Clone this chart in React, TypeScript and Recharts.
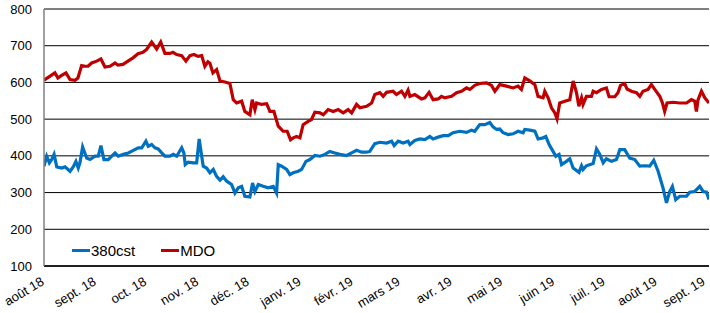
import React from 'react';
import { LineChart, Line, XAxis, YAxis, CartesianGrid } from 'recharts';

// x = days since 1 Aug 2018
const monthTicks = [0, 31, 61, 92, 122, 153, 184, 212, 243, 273, 304, 334, 365, 396];
const monthLabels = [
  'août 18', 'sept. 18', 'oct. 18', 'nov. 18', 'déc. 18', 'janv. 19', 'févr. 19',
  'mars 19', 'avr. 19', 'mai 19', 'juin 19', 'juil. 19', 'août 19', 'sept. 19',
];
const yTicks = [100, 200, 300, 400, 500, 600, 700, 800];
const seriesNames = ['380cst', 'MDO'];
const seriesColors = ['#0070C0', '#C00000'];

const cstDays = [
  0, 1.6, 3.2, 4.6, 6, 7.6, 10.5, 12.5, 15.5, 17.4,
  19, 20.4, 21.4, 23, 25.4, 27.4, 30.4, 32.3, 33.9, 35.7,
  38.3, 40.3, 42.3, 44.2, 47.2, 50.2, 53.2, 56.1, 58.2, 60.7,
  62.1, 64.1, 66.1, 68, 70.1, 72, 75, 77, 79, 82,
  83.3, 84.1, 85.9, 88.9, 90.9, 92.4, 94.8, 96.8, 98.8, 100.8,
  102.8, 104.8, 106.7, 108.8, 111.7, 113.7, 115.7, 117.7, 119.6, 122.6,
  124.2, 125.6, 127.6, 130.5, 133.5, 136.5, 138.5, 139.5, 141.5, 144.5,
  146.4, 148.4, 151.4, 153.4, 156, 158.3, 161.3, 164.3, 167.3, 170.2,
  173.2, 176.2, 180.2, 183.2, 186.1, 189.1, 192.1, 194, 197, 200,
  204, 207, 208.5, 210.9, 213.9, 216.8, 217.9, 220.8, 223.8, 226.8,
  229.8, 231.7, 234.7, 237.7, 240.7, 243.6, 247.6, 251.6, 254.6, 256.5,
  259.5, 262.5, 265.5, 267.4, 269.5, 271.4, 273.4, 276.4, 279.3, 282.3,
  285.3, 286.3, 289.3, 292.3, 294.2, 297.2, 298.8, 300.8, 302.8, 304.8,
  306.7, 308.2, 311.1, 313.1, 315.1, 318.6, 320.1, 321, 323, 327,
  329, 331, 333, 334.9, 337.9, 340.9, 342.9, 345.8, 348.8, 351.8,
  354.8, 357.7, 360.7, 363.1, 365.7, 368.6, 370.7, 372.6, 374.2, 376.2,
  378.6, 382.6, 384.5, 387.5, 390.5, 392.5, 394.5, 396,
];
const cstValues = [
  372, 399, 381, 390, 404, 370, 367, 370, 358, 370,
  385, 367, 381, 424, 394, 390, 399, 399, 428, 390,
  390, 399, 408, 399, 404, 408, 415, 422, 422, 440,
  426, 431, 422, 419, 408, 399, 399, 404, 399, 422,
  408, 376, 383, 381, 381, 446, 372, 367, 354, 363,
  344, 334, 343, 331, 322, 299, 313, 317, 290, 288,
  326, 303, 322, 317, 313, 317, 299, 376, 372, 363,
  349, 354, 358, 363, 385, 390, 401, 399, 404, 412,
  408, 404, 401, 408, 415, 410, 410, 412, 433, 437,
  435, 440, 428, 440, 435, 440, 431, 442, 446, 444,
  453, 446, 451, 455, 455, 463, 467, 464, 470, 467,
  485, 485, 491, 479, 472, 473, 463, 458, 460, 467,
  463, 472, 470, 467, 446, 449, 453, 431, 415, 399,
  404, 376, 385, 392, 367, 355, 373, 363, 373, 379,
  419, 404, 381, 392, 385, 390, 417, 417, 394, 390,
  372, 373, 372, 388, 358, 313, 272, 303, 317, 281,
  290, 290, 301, 303, 317, 303, 301, 281,
];

const mdoDays = [
  0, 3.6, 6.5, 8.3, 10.5, 13.1, 15.5, 18.5, 20.2, 22.4,
  24.4, 26.2, 28.4, 31.4, 33.9, 36.3, 39.3, 42.3, 44, 47,
  50, 53, 56, 58.9, 61.1, 64.1, 67.1, 69.5, 72, 75,
  76.8, 79, 82, 84.5, 86.9, 89.3, 91.7, 93.9, 95.8, 97.6,
  98.8, 100.6, 102.8, 104.8, 107.7, 110.7, 112.7, 114.7, 117.7, 119.6,
  122.6, 124, 125.6, 126.6, 129.6, 132.6, 134.5, 136.9, 139.5, 142.4,
  144.8, 146.8, 148.4, 150.4, 152.4, 154.3, 157.3, 159.3, 161.3, 164.3,
  166.3, 169.2, 172.2, 175.2, 178.2, 181.1, 183.2, 186.1, 188.1, 192.1,
  195.1, 197, 200, 202, 204, 207.9, 209.9, 212.9, 214.9, 216.8,
  217.9, 220.8, 224.8, 226.8, 229.3, 231.7, 234.7, 236.7, 238.7, 242.7,
  245.7, 248.6, 251.6, 253.6, 256.5, 259.5, 263.5, 266.5, 268.5, 271.4,
  275.4, 279.3, 282.3, 284.3, 286.3, 289.3, 292.3, 294.2, 297.2, 298.2,
  300.2, 302.2, 304.2, 305.5, 307.1, 310.1, 313.1, 315.1, 317.1, 318.5,
  320.1, 321, 323, 326, 327, 329, 332, 334.9, 336.5, 339.9,
  341.8, 343.3, 345.8, 347.2, 349.8, 352.8, 354.8, 356.7, 359.7, 361.7,
  363.7, 366.7, 368.3, 369.6, 371, 374.6, 378.6, 382.6, 385.5, 387.5,
  388.5, 389.5, 391.5, 393.5, 396,
];
const mdoValues = [
  606, 617, 626, 612, 619, 626, 608, 606, 612, 646,
  644, 644, 653, 658, 664, 642, 644, 653, 647, 649,
  658, 667, 678, 682, 690, 710, 691, 710, 679, 679,
  682, 676, 673, 658, 673, 676, 671, 673, 644, 656,
  652, 626, 635, 604, 601, 597, 553, 544, 549, 521,
  512, 553, 526, 544, 540, 542, 521, 521, 481, 467,
  467, 444, 449, 453, 449, 485, 494, 499, 519, 517,
  512, 526, 521, 526, 517, 526, 517, 540, 531, 535,
  544, 567, 572, 562, 573, 576, 567, 576, 562, 579,
  562, 567, 555, 558, 573, 553, 555, 562, 558, 562,
  572, 576, 585, 581, 592, 597, 599, 592, 576, 594,
  590, 585, 590, 581, 612, 604, 594, 562, 558, 576,
  558, 531, 517, 501, 544, 549, 553, 604, 572, 535,
  558, 540, 562, 562, 576, 572, 581, 585, 561, 561,
  572, 592, 597, 582, 576, 572, 562, 576, 581, 594,
  581, 562, 544, 521, 544, 546, 544, 544, 553, 549,
  521, 553, 576, 558, 544,
];

const cstData = cstDays.map((day, i) => ({ day, value: cstValues[i] }));
const mdoData = mdoDays.map((day, i) => ({ day, value: mdoValues[i] }));

const FONT = '"Liberation Sans", Arial, sans-serif';

const MonthTick = (props: any) => {
  const { x, y, payload } = props;
  const label = monthLabels[monthTicks.indexOf(payload.value)];
  const tx = Math.min(x + 1, 706);
  const ty = y + 18;
  return (
    <text
      x={tx}
      y={ty}
      textAnchor="end"
      fontSize={13}
      fill="#000"
      fontFamily={FONT}
      transform={`rotate(-31 ${tx} ${ty})`}
    >
      {label}
    </text>
  );
};

export default function App() {
  return (
    <div style={{ position: 'relative', width: 710, height: 313, fontFamily: FONT }}>
      <style>{'body{margin:0}'}</style>
      <LineChart width={710} height={313} margin={{ top: 9, right: 1, bottom: 0, left: 0 }}>
        <CartesianGrid horizontal vertical={false} stroke="#000" strokeWidth={1} />
        <XAxis
          type="number"
          dataKey="day"
          domain={[0, 396]}
          ticks={monthTicks}
          interval={0}
          tick={<MonthTick />}
          tickLine={false}
          tickSize={0}
          tickMargin={0}
          axisLine={{ stroke: '#000', strokeWidth: 1.5 }}
          height={47}
          allowDataOverflow
        />
        <YAxis
          type="number"
          domain={[100, 800]}
          ticks={yTicks}
          interval={0}
          width={44}
          tickLine={false}
          tickSize={0}
          tickMargin={12}
          axisLine={{ stroke: '#808080', strokeWidth: 1.5 }}
          tick={{ fontSize: 13, fill: '#000', fontFamily: FONT }}
        />
        <Line
          data={cstData}
          dataKey="value"
          name={seriesNames[0]}
          type="linear"
          stroke={seriesColors[0]}
          strokeWidth={3.2}
          dot={false}
          isAnimationActive={false}
        />
        <Line
          data={mdoData}
          dataKey="value"
          name={seriesNames[1]}
          type="linear"
          stroke={seriesColors[1]}
          strokeWidth={3.2}
          dot={false}
          isAnimationActive={false}
        />
      </LineChart>
      <div style={{ position: 'absolute', left: 72, top: 242, display: 'flex', alignItems: 'center', fontSize: 15 }}>
        {seriesNames.map((name, i) => (
          <div key={name} style={{ display: 'flex', alignItems: 'center', marginRight: i === 0 ? 26 : 0 }}>
            <div style={{ width: 18, height: 3, background: seriesColors[i], marginRight: 1 }} />
            <span>{name}</span>
          </div>
        ))}
      </div>
    </div>
  );
}
